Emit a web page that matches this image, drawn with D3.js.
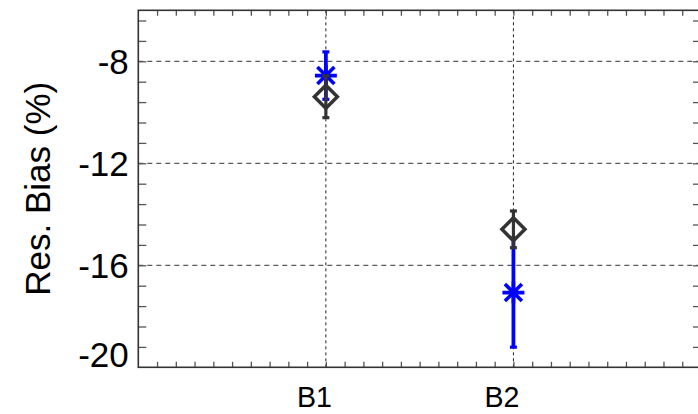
<!DOCTYPE html>
<html><head><meta charset="utf-8">
<script src="https://cdn.jsdelivr.net/npm/d3@7"></script>
<style>body{margin:0;background:#fff} svg{display:block}</style>
</head><body>
<svg id="c" width="698" height="414"></svg>
<script>
const categories = ["B1", "B2"];
const categoryPos = [1, 2];
const blueMean = [-8.56, -17.07];
const blueErr = [0.93, 2.14];
const grayMean = [-9.39, -14.59];
const grayErr = [0.82, 0.72];
const yLabelValues = [-8, -12, -16, -20];
const yLabelTexts = ["-8", "-12", "-16", "-20"];
const yGridValues = [-8, -12, -16];
const yDomain = [-20, -6];
const xDomain = [0, 3];
const yTitle = "Res. Bias (%)";

const svg = d3.select("#c");
const m = {left: 138.3, right: 701, top: 10.3, bottom: 367.3};
const x = d3.scaleLinear().domain(xDomain).range([m.left, m.right]);
const y = d3.scaleLinear().domain(yDomain).range([m.bottom, m.top]);

const xMinor = d3.range(1, 30).map(i => i / 10);
const yMinor = d3.range(1, 18).map(i => yDomain[0] + i * 0.8);

// grid
svg.append("g").selectAll("line").data(yGridValues).join("line")
  .attr("x1", m.left).attr("x2", m.right)
  .attr("y1", d => y(d)).attr("y2", d => y(d))
  .attr("stroke", "#333").attr("stroke-width", 1).attr("stroke-dasharray", "5,4");
svg.append("g").selectAll("line").data(categoryPos).join("line")
  .attr("x1", d => x(d)).attr("x2", d => x(d))
  .attr("y1", m.top).attr("y2", m.bottom)
  .attr("stroke", "#222").attr("stroke-width", 1).attr("stroke-dasharray", "3,3");

// ticks
function styleAxis(g) {
  g.select(".domain").remove();
  g.selectAll(".tick line").attr("stroke", "#555").attr("stroke-width", 1.3);
}
svg.append("g").attr("transform", `translate(${m.left},0)`)
  .call(d3.axisLeft(y).tickValues(yMinor).tickSize(-8).tickFormat("")).call(styleAxis);
svg.append("g").attr("transform", `translate(${m.right},0)`)
  .call(d3.axisRight(y).tickValues(yMinor).tickSize(-8).tickFormat("")).call(styleAxis);
svg.append("g").attr("transform", `translate(0,${m.bottom})`)
  .call(d3.axisBottom(x).tickValues(xMinor).tickSize(-5.5).tickFormat("")).call(styleAxis);
svg.append("g").attr("transform", `translate(0,${m.top})`)
  .call(d3.axisTop(x).tickValues(xMinor).tickSize(-5.5).tickFormat("")).call(styleAxis);

// frame
svg.append("rect").attr("x", m.left).attr("y", m.top)
  .attr("width", m.right - m.left).attr("height", m.bottom - m.top)
  .attr("fill", "none").attr("stroke", "#333").attr("stroke-width", 1.6);

// y labels
svg.append("g").selectAll("text").data(yLabelValues).join("text")
  .attr("x", m.left - 9.5)
  .attr("y", d => Math.min(y(d) + 12.5, m.bottom))
  .attr("text-anchor", "end")
  .attr("font-family", "Liberation Sans, Arial, sans-serif")
  .attr("font-size", 35).attr("fill", "#000")
  .text((d, i) => yLabelTexts[i]);

// x labels
svg.append("g").selectAll("text").data(categoryPos).join("text")
  .attr("x", d => x(d) + 6).attr("y", 407.3)
  .attr("text-anchor", "end")
  .attr("font-family", "Liberation Sans, Arial, sans-serif")
  .attr("font-size", 28.6).attr("fill", "#000")
  .text((d, i) => categories[i]);

// y title
svg.append("text")
  .attr("transform", `translate(50,${(m.top + m.bottom) / 2}) rotate(-90)`)
  .attr("text-anchor", "middle")
  .attr("font-family", "Liberation Sans, Arial, sans-serif")
  .attr("font-size", 35).attr("fill", "#000")
  .text(yTitle);

function errorBars(mean, err, color, w) {
  const g = svg.append("g");
  categoryPos.forEach((p, i) => {
    const cx = x(p), lo = y(mean[i] - err[i]), hi = y(mean[i] + err[i]);
    g.append("line").attr("x1", cx).attr("x2", cx).attr("y1", lo).attr("y2", hi)
      .attr("stroke", color).attr("stroke-width", w);
    [lo, hi].forEach(yy => g.append("line").attr("x1", cx - 3.5).attr("x2", cx + 3.5)
      .attr("y1", yy).attr("y2", yy).attr("stroke", color).attr("stroke-width", 3.2));
  });
}

// blue series
errorBars(blueMean, blueErr, "#0000ff", 3.8);
svg.append("g").selectAll("path").data(categoryPos).join("path")
  .attr("transform", (d, i) => `translate(${x(d)},${y(blueMean[i])})`)
  .attr("d", "M-11,0H11M0,-11V11M-8.5,-8.5L8.5,8.5M-8.5,8.5L8.5,-8.5")
  .attr("stroke", "#0000ff").attr("stroke-width", 3.6).attr("fill", "none");

// gray series
errorBars(grayMean, grayErr, "#333333", 3.2);
svg.append("g").selectAll("path").data(categoryPos).join("path")
  .attr("transform", (d, i) => `translate(${x(d)},${y(grayMean[i])})`)
  .attr("d", "M0,-11.5L11.5,0L0,11.5L-11.5,0Z")
  .attr("stroke", "#333333").attr("stroke-width", 3.5).attr("fill", "none");
</script>
</body></html>
